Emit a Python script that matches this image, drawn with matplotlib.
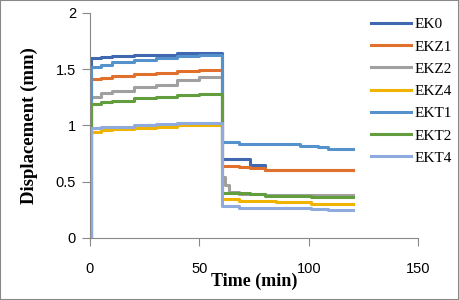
import matplotlib.pyplot as plt
from matplotlib.patches import Rectangle

# temps (min) partage par toutes les courbes
t = [0, 0.3, 5, 10, 20, 30, 40, 50, 60.3, 61.5, 63.5, 68, 73, 80, 85, 96, 101, 104, 109, 120]

series = ["EK0", "EKZ1", "EKZ2", "EKZ4", "EKT1", "EKT2", "EKT4"]
ek0 = [0, 1.60, 1.61, 1.62, 1.63, 1.63, 1.64, 1.645, 0.70, 0.70, 0.70, 0.70, 0.65, 0.60, 0.60, 0.60, 0.60, 0.60, 0.60, 0.60]
ekz1 = [0, 1.41, 1.42, 1.44, 1.46, 1.47, 1.48, 1.49, 0.64, 0.64, 0.64, 0.63, 0.62, 0.605, 0.60, 0.60, 0.60, 0.60, 0.60, 0.60]
ekz2 = [0, 1.25, 1.29, 1.31, 1.34, 1.36, 1.40, 1.43, 0.54, 0.47, 0.41, 0.39, 0.39, 0.385, 0.385, 0.385, 0.385, 0.385, 0.385, 0.385]
ekz4 = [0, 0.94, 0.96, 0.97, 0.98, 0.99, 1.00, 1.00, 0.35, 0.35, 0.35, 0.33, 0.33, 0.33, 0.32, 0.32, 0.30, 0.30, 0.30, 0.30]
ekt1 = [0, 1.52, 1.54, 1.56, 1.58, 1.60, 1.62, 1.63, 0.85, 0.85, 0.85, 0.835, 0.835, 0.835, 0.835, 0.82, 0.82, 0.806, 0.794, 0.794]
ekt2 = [0, 1.19, 1.21, 1.22, 1.24, 1.25, 1.27, 1.275, 0.40, 0.40, 0.40, 0.40, 0.39, 0.375, 0.37, 0.37, 0.365, 0.36, 0.36, 0.36]
ekt4 = [0, 0.98, 0.99, 0.99, 1.00, 1.01, 1.02, 1.02, 0.285, 0.285, 0.285, 0.27, 0.27, 0.27, 0.27, 0.27, 0.258, 0.258, 0.25, 0.25]
values = [ek0, ekz1, ekz2, ekz4, ekt1, ekt2, ekt4]
colors = ["#3F68B0", "#E0702C", "#A0A0A0", "#F0B400", "#5592CC", "#639E3E", "#8FAADC"]

x_ticks = [0, 50, 100, 150]
y_ticks = [0, 0.5, 1, 1.5, 2]

fig = plt.figure(figsize=(4.59, 3.0), dpi=100)
ax = fig.add_axes([0.196, 0.207, 0.715, 0.75])

for name, v, c in zip(series, values, colors):
    ax.plot(t, v, drawstyle="steps-post", color=c, lw=2.2, label=name)

ax.set_xlim(0, 150)
ax.set_ylim(0, 2)
ax.set_xticks(x_ticks)
ax.set_yticks(y_ticks)
ax.set_xticklabels([str(v) for v in x_ticks], family="Liberation Sans", fontsize=10.5)
ax.set_yticklabels([f"{v:g}" for v in y_ticks], family="Liberation Sans", fontsize=10.5)
ax.tick_params(length=6, color="#888888")
ax.tick_params(axis="x", pad=11)
ax.tick_params(axis="y", pad=4)

for s in ["top", "right"]:
    ax.spines[s].set_visible(False)
for s in ["left", "bottom"]:
    ax.spines[s].set_color("#888888")

ax.set_xlabel("Time (min)", family="Liberation Serif", fontweight="bold", fontsize=13, labelpad=-2)
ax.set_ylabel("Displacement (mm)", family="Liberation Serif", fontweight="bold", fontsize=13.5, labelpad=13)

leg = ax.legend(loc="upper left", bbox_to_anchor=(0.815, 1.04), frameon=False,
                prop={"family": "Liberation Serif", "size": 11},
                handlelength=2.6, labelspacing=0.56, handletextpad=0.25)

# cadre gris autour de la figure
fig.patches.append(Rectangle((0, 0), 1, 1, transform=fig.transFigure, fill=False,
                             edgecolor="#888888", lw=1.5))

fig.savefig("out.png", dpi=100)
